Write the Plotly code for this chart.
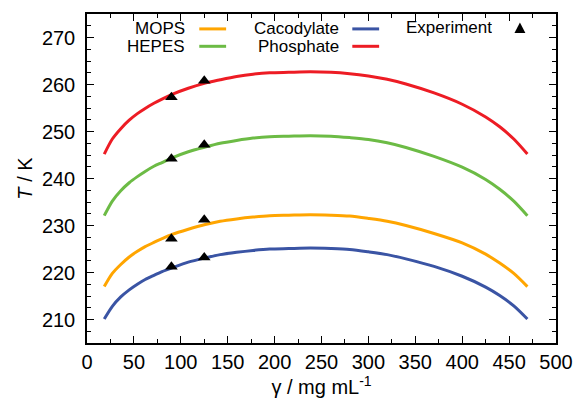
import plotly.graph_objects as go

# concentration gamma (mg/mL) sample points
gamma = [18.4, 27, 36, 45, 53.7, 62, 71.3, 80, 90.7, 108, 126, 142, 159.5, 177, 194.7,
         215, 238, 260, 280, 300, 320, 340, 370, 400, 425, 440, 455, 469.5]

T_phosphate = [245.2, 248.4, 250.6, 252.4, 253.8, 254.9, 256.0, 256.9, 257.9, 259.2, 260.3, 261.0, 261.7, 262.2, 262.5,
               262.6, 262.7, 262.6, 262.3, 261.8, 261.1, 260.1, 258.2, 255.8, 253.1, 251.0, 248.4, 245.2]
T_hepes = [232.1, 235.2, 237.4, 239.1, 240.4, 241.5, 242.6, 243.4, 244.4, 245.7, 246.7, 247.5, 248.1, 248.6, 248.9,
           249.0, 249.1, 249.0, 248.7, 248.3, 247.6, 246.6, 244.7, 242.4, 239.8, 237.7, 235.2, 232.1]
T_mops = [217.0, 219.8, 221.7, 223.3, 224.5, 225.5, 226.4, 227.2, 228.1, 229.2, 230.2, 230.9, 231.4, 231.8, 232.1,
          232.2, 232.3, 232.2, 232.0, 231.5, 230.9, 230.0, 228.3, 226.3, 223.9, 222.0, 219.8, 217.0]
T_cacodylate = [210.1, 212.8, 214.8, 216.3, 217.5, 218.5, 219.4, 220.2, 221.0, 222.2, 223.1, 223.8, 224.3, 224.7, 225.0,
                225.1, 225.2, 225.1, 224.9, 224.4, 223.8, 222.9, 221.3, 219.2, 216.9, 215.1, 212.9, 210.1]

# experimental points
exp_gamma = [90, 125, 90, 125, 90, 125, 90, 125]
exp_T = [257.3, 260.8, 244.2, 247.2, 227.2, 231.2, 221.2, 223.2]

x_ticks = [0, 50, 100, 150, 200, 250, 300, 350, 400, 450, 500]
y_ticks = [210, 220, 230, 240, 250, 260, 270]

colors = {"MOPS": "#FFA500", "HEPES": "#6CBB45", "Cacodylate": "#3A54A4", "Phosphate": "#ED1C24"}

fig = go.Figure()
for name, ys in [("Cacodylate", T_cacodylate), ("MOPS", T_mops), ("HEPES", T_hepes), ("Phosphate", T_phosphate)]:
    fig.add_trace(go.Scatter(x=gamma, y=ys, mode="lines",
                             line=dict(color=colors[name], width=3, shape="spline", smoothing=0.8),
                             name=name, showlegend=False))
fig.add_trace(go.Scatter(x=exp_gamma, y=exp_T, mode="markers",
                         marker=dict(symbol="triangle-up", size=11, color="black"), showlegend=False))

L, R, T, B = 87, 26, 12, 68
W, H = 585, 411
pw, ph = W - L - R, H - T - B
def px(x):
    return (x - L) / pw
def py(y):
    return (H - B - y) / ph

font = "Liberation Sans, Arial, sans-serif"
leg = [("MOPS", 188, 200, 227, 27), ("HEPES", 188, 200, 227, 44.5),
       ("Cacodylate", 343, 354, 381, 27), ("Phosphate", 343, 354, 381, 44.5)]
shapes = []
annotations = []
for name, tx, x0, x1, y in leg:
    annotations.append(dict(x=px(tx), y=py(y), xref="paper", yref="paper", text=name, showarrow=False,
                            xanchor="right", yanchor="middle", height=17,
                            font=dict(family=font, size=17, color="black")))
    shapes.append(dict(type="line", xref="paper", yref="paper", x0=px(x0), x1=px(x1), y0=py(y), y1=py(y),
                       line=dict(color=colors[name], width=3)))
annotations.append(dict(x=px(497), y=py(26), xref="paper", yref="paper", text="Experiment", showarrow=False,
                        xanchor="right", yanchor="middle", height=17,
                        font=dict(family=font, size=17, color="black")))
cx, cy = 522.7, 26
shapes.append(dict(type="path", xref="paper", yref="paper",
                   path=f"M {px(cx-5.5)} {py(cy+5)} L {px(cx+5.5)} {py(cy+5)} L {px(cx)} {py(cy-5.5)} Z",
                   fillcolor="black", line=dict(width=0)))

axis_common = dict(showgrid=False, zeroline=False, showline=True, linecolor="black", linewidth=1.5, mirror="ticks",
                   ticks="inside", ticklen=7, tickwidth=1, tickcolor="black",
                   tickfont=dict(family=font, size=20, color="black"))
fig.update_xaxes(range=[0, 500], tickvals=x_ticks, ticktext=[str(v) for v in x_ticks],
                 minor=dict(dtick=25, ticks="inside", ticklen=4, tickcolor="black"),
                 title=dict(text="γ / mg mL<sup>-1</sup>", font=dict(family=font, size=20, color="black"), standoff=8),
                 **axis_common)
fig.update_yaxes(range=[205, 275], tickvals=y_ticks, ticktext=[str(v) for v in y_ticks],
                 minor=dict(dtick=2.5, ticks="inside", ticklen=4, tickcolor="black"),
                 ticklabelstandoff=6,
                 title=dict(text="<i>T</i> / K", font=dict(family=font, size=20, color="black"), standoff=4),
                 **axis_common)
fig.update_layout(width=W, height=H, margin=dict(l=L, r=R, t=T, b=B), plot_bgcolor="white", paper_bgcolor="white",
                  shapes=shapes, annotations=annotations, showlegend=False)
fig.write_html("out.html")
